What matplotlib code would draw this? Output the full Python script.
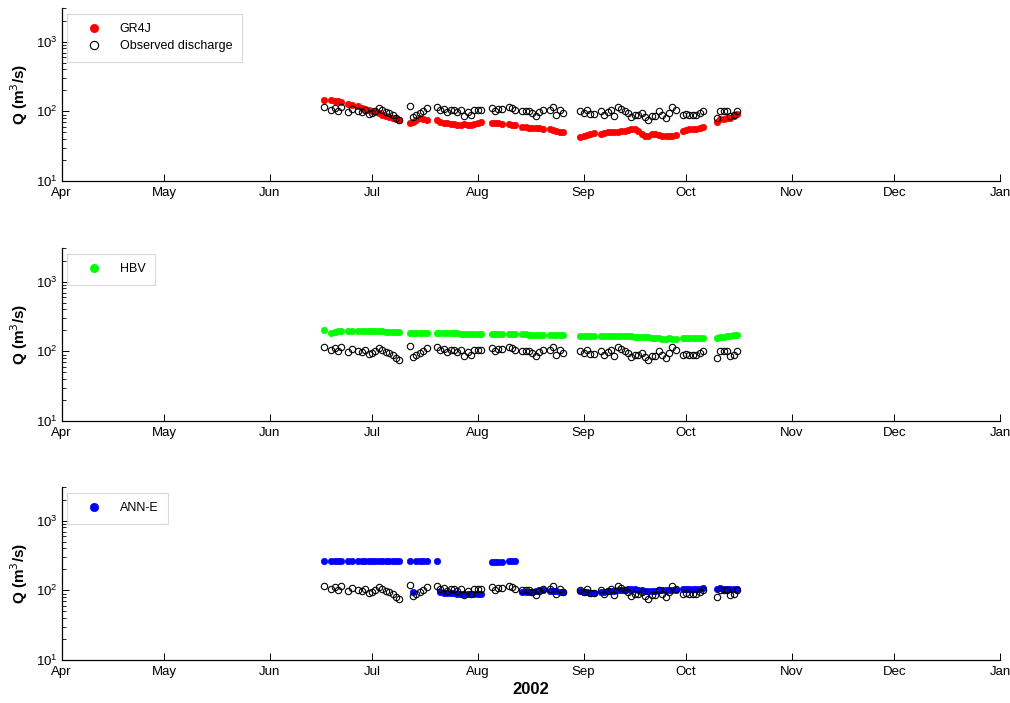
import matplotlib
matplotlib.use("Agg")
import matplotlib.pyplot as plt
import matplotlib.dates as mdates
from matplotlib.ticker import LogLocator, NullFormatter
import pandas as pd
import numpy as np

# ---- data ----
segments = [("2002-06-17", "2002-06-17"), ("2002-06-19", "2002-06-22"),
            ("2002-06-24", "2002-06-25"), ("2002-06-27", "2002-07-09"),
            ("2002-07-12", "2002-07-17"), ("2002-07-20", "2002-08-02"),
            ("2002-08-05", "2002-08-08"), ("2002-08-10", "2002-08-12"),
            ("2002-08-14", "2002-08-20"), ("2002-08-22", "2002-08-26"),
            ("2002-08-31", "2002-09-04"), ("2002-09-06", "2002-09-28"),
            ("2002-09-30", "2002-10-06"), ("2002-10-10", "2002-10-16")]

observed = [114,
            105, 111, 100, 117,
            98, 109,
            102, 98, 105, 91, 94, 100, 111, 105, 98, 94, 88, 80, 74,
            118, 83, 90, 95, 100, 112,
            114, 106, 108, 98, 106, 104, 97, 104, 86, 98, 90, 104, 106, 106,
            110, 100, 107, 109,
            117, 113, 105,
            102, 100, 102, 94, 86, 97, 105,
            105, 115, 90, 103, 94,
            100, 96, 106, 93, 92,
            102, 88, 98, 105, 85, 114, 109, 102, 95, 83, 88, 90, 95, 83, 75, 85,
            85, 102, 90, 81, 95, 114, 105,
            90, 92, 90, 89, 88, 95, 100,
            80, 100, 102, 100, 85, 88, 102]

gr4j = [147,
        145, 143, 140, 136,
        126, 122,
        118, 113, 109, 105, 101, 97, 94, 90, 87, 84, 81, 78, 75,
        69, 70, 74, 79, 78, 76,
        74, 71, 69, 67, 66, 65, 64, 64, 65, 64, 64, 65, 67, 71,
        68, 67, 67, 66,
        65, 64, 64,
        60, 59, 58, 58, 57, 57, 56,
        55, 54, 52, 51, 50,
        43, 44, 46, 47, 49,
        48, 49, 50, 50, 51, 51, 52, 53, 54, 55, 55, 53, 48, 45, 45, 47,
        48, 46, 44, 44, 45, 45, 46,
        52, 54, 55, 55, 56, 58, 60,
        70, 77, 78, 79, 80, 86, 92]

hbv = [200,
       185, 192, 196, 198,
       194, 194,
       194, 194, 193, 193, 193, 193, 193, 193, 192, 192, 192, 192, 192,
       184, 184, 184, 184, 183, 183,
       184, 184, 183, 183, 182, 182, 181, 180, 180, 179, 179, 178, 178, 178,
       178, 178, 177, 177,
       177, 176, 176,
       175, 175, 174, 174, 174, 173, 173,
       173, 172, 172, 171, 171,
       168, 168, 167, 167, 167,
       168, 168, 167, 167, 166, 166, 165, 165, 164, 164, 163, 162, 161, 160,
       159, 158, 156, 155, 153, 152, 154, 151, 150,
       155, 155, 155, 155, 155, 155, 156,
       158, 161, 163, 165, 168, 170, 173]

ann_e = [260,
         260, 260, 260, 260,
         260, 260,
         260, 260, 260, 260, 260, 260, 260, 260, 260, 260, 260, 260, 260,
         260, 94, 260, 260, 260, 260,
         260, 95, 93, 92, 92, 91, 90, 89, 89, 88, 88, 89, 89, 90,
         252, 252, 252, 254,
         260, 260, 260,
         95, 95, 95, 96, 98, 100, 102,
         98, 97, 97, 96, 96,
         97, 96, 94, 92, 92,
         95, 96, 97, 98, 99, 100, 101, 102, 103, 104, 104, 102, 100, 98, 97,
         98, 99, 100, 101, 101, 102, 102, 102,
         104, 104, 104, 105, 105, 106, 107,
         106, 107, 106, 105, 104, 105, 106]

model_names = ["GR4J", "HBV", "ANN-E"]
model_colors = ["#ff0000", "#00ff00", "#0000ff"]
model_values = [gr4j, hbv, ann_e]

dates = pd.DatetimeIndex(np.concatenate(
    [pd.date_range(s, e, freq="D").values for s, e in segments]))

# ---- figure ----
plt.rcParams["font.family"] = ["Liberation Sans", "DejaVu Sans"]

fig = plt.figure(figsize=(10.10, 7.03), dpi=100)
left = 61.5 / 1010
width = 938.5 / 1010
height = 173 / 703
bottoms = [1 - 181 / 703, 1 - 421 / 703, 1 - 660 / 703]

for i, (name, col, vals) in enumerate(zip(model_names, model_colors, model_values)):
    ax = fig.add_axes([left, bottoms[i], width, height])
    ax.plot(dates, vals, linestyle="none", marker="o", markersize=4.6,
            markerfacecolor=col, markeredgecolor=col, markeredgewidth=0.5,
            label=name)
    ax.plot(dates, observed, linestyle="none", marker="o", markersize=4.6,
            markerfacecolor="none", markeredgecolor="black", markeredgewidth=0.8,
            label="Observed discharge" if i == 0 else None)
    ax.set_yscale("log")
    ax.set_ylim(10, 3050)
    ax.set_xlim(pd.Timestamp("2002-04-01"), pd.Timestamp("2003-01-01"))
    ax.xaxis.set_major_locator(mdates.MonthLocator())
    ax.xaxis.set_major_formatter(mdates.DateFormatter("%b"))
    ax.yaxis.set_major_locator(LogLocator(base=10, numticks=10))
    ax.yaxis.set_minor_locator(LogLocator(base=10, subs=np.arange(2, 10), numticks=10))
    ax.yaxis.set_minor_formatter(NullFormatter())
    ax.tick_params(axis="x", direction="in", length=5, width=0.7, pad=4,
                   labelsize=9.5)
    ax.tick_params(axis="y", which="major", direction="in", length=5, width=0.7,
                   pad=3, labelsize=9.5)
    ax.tick_params(axis="y", which="minor", direction="in", length=3, width=0.6)
    for s in ["top", "right"]:
        ax.spines[s].set_visible(False)
    for s in ["left", "bottom"]:
        ax.spines[s].set_linewidth(0.9)
    ax.set_ylabel("Q (m$^3$/s)", fontsize=11, fontweight="bold", labelpad=4)
    leg = ax.legend(loc="upper left", bbox_to_anchor=(0.006, 0.965), fontsize=9,
                    frameon=True, fancybox=False, edgecolor="#d0d0d0",
                    handletextpad=0.65, borderpad=0.75, labelspacing=0.4,
                    handlelength=2.8, borderaxespad=0, markerscale=1.3)
    leg.get_frame().set_linewidth(0.8)
    if i == 2:
        ax.set_xlabel("2002", fontsize=12, fontweight="bold", labelpad=3)

fig.savefig("out.png", dpi=100)
